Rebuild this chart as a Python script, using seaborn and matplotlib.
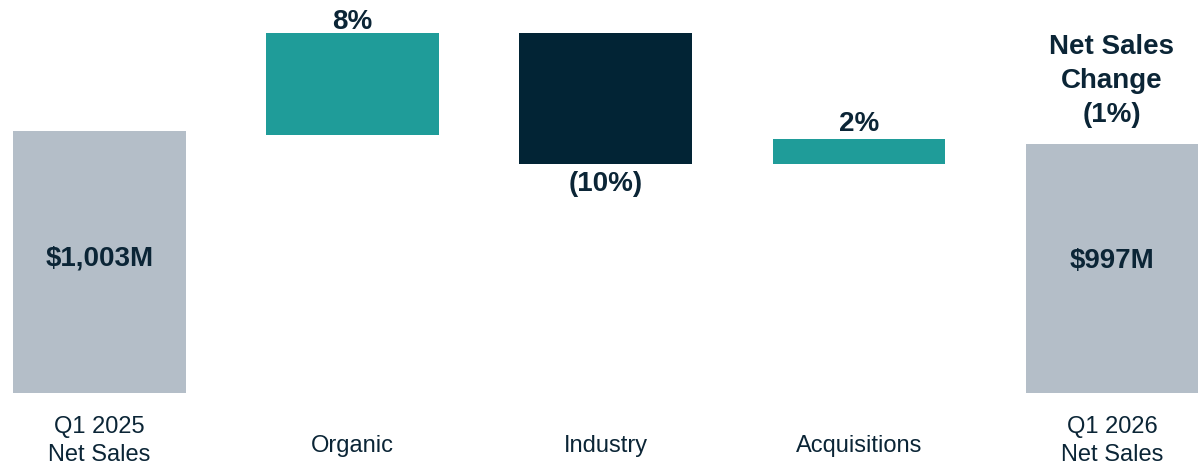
import matplotlib
matplotlib.use("Agg")
import matplotlib.pyplot as plt
import seaborn as sns
import numpy as np

# ---- data (display levels, in $M-like units) ----
categories = ["Q1 2025\nNet Sales", "Organic", "Industry", "Acquisitions", "Q1 2026\nNet Sales"]
bar_base = [0, 988, 879, 879, 0]
bar_top = [1003, 1378, 1378, 972, 953]
value_labels = ["$1,003M", "8%", "(10%)", "2%", "$997M"]
summary_label = "Net Sales\nChange\n(1%)"

GRAY = "#B4BEC8"
TEAL = "#1F9C99"
NAVY = "#022435"
TEXT = "#0B2536"
bar_colors = [GRAY, TEAL, NAVY, TEAL, GRAY]

sns.set_theme(style="white")
plt.rcParams["font.family"] = ["Liberation Sans", "DejaVu Sans"]

fig = plt.figure(figsize=(11.99, 4.64), dpi=100)
ax = fig.add_axes([0, 0, 1, 1])

heights = [t - b for t, b in zip(bar_top, bar_base)]
sns.barplot(x=categories, y=heights, bottom=bar_base, width=0.682,
            color=GRAY, ax=ax, linewidth=0, saturation=1)
for patch, c in zip(ax.patches, bar_colors):
    patch.set_facecolor(c)
    patch.set_edgecolor("none")

# axis limits so that positions match the reference
ax.set_xlim(-0.393, 4.344)
ax.set_ylim(-268, 1510)
ax.axis("off")

H = 464.0
def fy(px):
    return 1 - px / H

tr = ax.get_xaxis_transform()
# category labels
label_y = [441, 446, 446, 446, 441]
for i, (lab, py) in enumerate(zip(categories, label_y)):
    ax.text(i, fy(py), lab, transform=tr, ha="center", va="center",
            fontsize=17, color=TEXT, linespacing=1.38)

# value labels
val_y = [259, 22, 184, 124, 261]
for i, (lab, py) in enumerate(zip(value_labels, val_y)):
    ax.text(i, fy(py), lab, transform=tr, ha="center", va="center",
            fontsize=20, fontweight="bold", color=TEXT)

ax.text(4, fy(81), summary_label, transform=tr, ha="center", va="center",
        fontsize=20, fontweight="bold", color=TEXT, linespacing=1.38)

fig.savefig("out.png", dpi=100, facecolor="white")
